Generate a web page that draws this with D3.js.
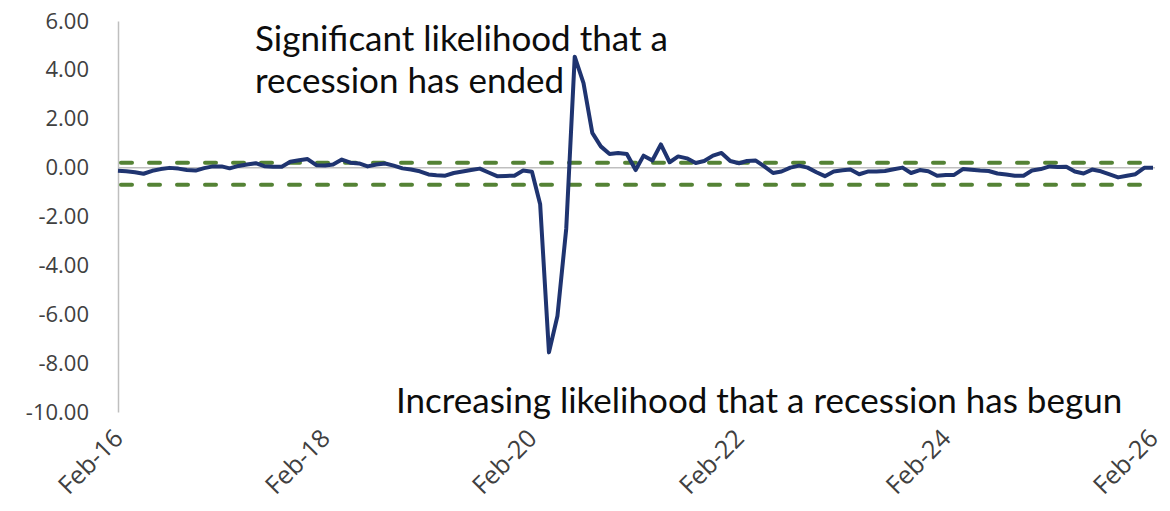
<!DOCTYPE html>
<html>
<head>
<meta charset="utf-8">
<script src="https://cdn.jsdelivr.net/npm/d3@7"></script>
<style>
  html, body { margin: 0; padding: 0; background: #ffffff; }
  svg { display: block; }
</style>
</head>
<body>
<svg id="chart" width="1170" height="511"></svg>
<script>
// Chicago Fed National Activity Index, three-month moving average (monthly)
const startMonth = "2016-02";
const indexValues = [
  -0.13, -0.15, -0.19, -0.25, -0.13, -0.06, -0.01, -0.04, -0.10, -0.12, -0.02, 0.05,
   0.05, -0.03,  0.07,  0.13,  0.18,  0.06,  0.04,  0.04,  0.24,  0.30,  0.35, 0.10,
   0.09,  0.13,  0.33,  0.20,  0.17,  0.05,  0.13,  0.17,  0.08, -0.03, -0.08, -0.15,
  -0.28, -0.31, -0.33, -0.22, -0.16, -0.10, -0.04, -0.20, -0.35, -0.34, -0.33, -0.12,
  -0.17, -1.50, -7.56, -6.07, -2.50,  4.54,  3.46,  1.42,  0.87,  0.56,  0.60, 0.56,
  -0.10,  0.49,  0.29,  0.95,  0.22,  0.46,  0.38,  0.19,  0.27,  0.49,  0.60, 0.27,
   0.18,  0.27,  0.29,  0.05, -0.22, -0.16,  0.00,  0.08,  0.00, -0.19, -0.35, -0.16,
  -0.11, -0.08, -0.27, -0.16, -0.16, -0.14, -0.07,  0.00, -0.22, -0.10, -0.15, -0.33,
  -0.30, -0.30, -0.06, -0.09, -0.12, -0.14, -0.24, -0.28, -0.33, -0.33, -0.12, -0.06,
   0.05,  0.03,  0.04, -0.16, -0.24, -0.08, -0.15, -0.28, -0.40, -0.33, -0.27, -0.01,
  -0.01
];

// Threshold levels
const expansionThreshold = 0.2;
const recessionThreshold = -0.7;

// Axis ticks
const yTicks = [6, 4, 2, 0, -2, -4, -6, -8, -10];
const xTickMonths = ["2016-02", "2018-02", "2020-02", "2022-02", "2024-02", "2026-02"];

// Annotation text
const endedLines = ["Significant likelihood that a", "recession has ended"];
const begunText = "Increasing likelihood that a recession has begun";

const parseMonth = d3.timeParse("%Y-%m");
const fmtMonth = d3.timeFormat("%b-%y");
const start = parseMonth(startMonth);
const series = indexValues.map((v, i) => ({ date: d3.timeMonth.offset(start, i), value: v }));
const tickDates = xTickMonths.map(parseMonth);

// Number format with a plain hyphen for negatives
const locale = d3.formatLocale({ decimal: ".", thousands: ",", grouping: [3], currency: ["$", ""], minus: "-" });
const fmtValue = locale.format(".2f");

const svg = d3.select("#chart");
const plot = { left: 118, right: 1153, top: 21, bottom: 412 };

const x = d3.scaleTime()
  .domain([start, tickDates[tickDates.length - 1]])
  .range([plot.left, plot.right]);

const y = d3.scaleLinear()
  .domain([-10, 6])
  .range([plot.bottom, plot.top]);

const labelFont = "'Open Sans', 'Noto Sans', sans-serif";
const textFont = "Lato, 'Noto Sans', sans-serif";

// Vertical axis line and labels
const yAxis = d3.axisLeft(y).tickValues(yTicks).tickFormat(fmtValue).tickSize(0).tickPadding(29);
const yG = svg.append("g").attr("transform", `translate(${plot.left},0)`).call(yAxis);
yG.select(".domain").attr("stroke", "#bfbfbf").attr("stroke-width", 1.5);
yG.selectAll("text")
  .attr("font-family", labelFont)
  .attr("font-size", 22)
  .attr("fill", "#404040");

// Zero line
svg.append("line")
  .attr("x1", plot.left).attr("x2", plot.right + 2)
  .attr("y1", y(0)).attr("y2", y(0))
  .attr("stroke", "#bfbfbf").attr("stroke-width", 1.5);

// Horizontal axis labels (rotated)
const xAxis = d3.axisBottom(x).tickValues(tickDates).tickFormat(fmtMonth).tickSize(0).tickPadding(0);
const xG = svg.append("g").attr("transform", `translate(0,${plot.bottom})`).call(xAxis);
xG.select(".domain").remove();
xG.selectAll("text")
  .attr("font-family", labelFont)
  .attr("font-size", 25)
  .attr("fill", "#404040")
  .attr("text-anchor", "end")
  .attr("dy", 0)
  .attr("transform", "translate(6,28) rotate(-45)");

// Threshold dashed lines
svg.append("g").selectAll("line")
  .data([expansionThreshold, recessionThreshold])
  .join("line")
  .attr("x1", plot.left + 3).attr("x2", plot.right)
  .attr("y1", d => y(d)).attr("y2", d => y(d))
  .attr("stroke", "#548235")
  .attr("stroke-width", 4)
  .attr("stroke-linecap", "round")
  .attr("stroke-dasharray", "11 17");

// Index line
const line = d3.line().x(d => x(d.date)).y(d => y(d.value));
svg.append("path")
  .datum(series)
  .attr("d", line)
  .attr("fill", "none")
  .attr("stroke", "#1f3470")
  .attr("stroke-width", 4)
  .attr("stroke-linejoin", "round");

// Annotations
svg.append("text")
  .attr("font-family", textFont)
  .attr("font-size", 35)
  .attr("fill", "#0d0d0d")
  .selectAll("tspan")
  .data(endedLines)
  .join("tspan")
  .attr("x", 255)
  .attr("y", (d, i) => 51 + i * 42)
  .text(d => d);

svg.append("text")
  .attr("font-family", textFont)
  .attr("font-size", 35)
  .attr("fill", "#0d0d0d")
  .attr("x", 396)
  .attr("y", 413)
  .text(begunText);
</script>
</body>
</html>
